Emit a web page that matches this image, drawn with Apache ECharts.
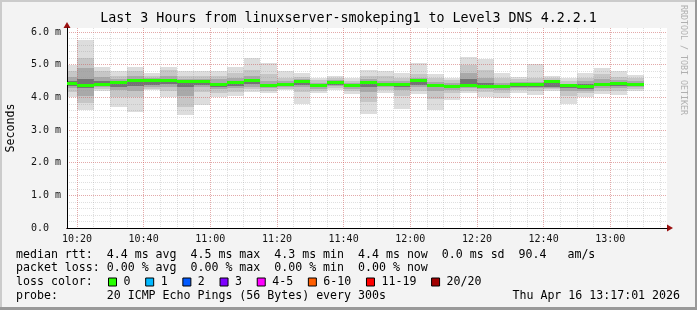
<!DOCTYPE html>
<html>
<head>
<meta charset="utf-8">
<script src="https://cdn.jsdelivr.net/npm/echarts@6/dist/echarts.min.js"></script>
<style>
html,body{margin:0;padding:0;background:#f3f3f3;}
#c{width:697px;height:310px;}
</style>
</head>
<body>
<div id="c"></div>
<script>
// ---- data (ms) ----
const barStarts = ["10:15","10:20","10:25","10:30","10:35","10:40","10:45","10:50","10:55","11:00",
  "11:05","11:10","11:15","11:20","11:25","11:30","11:35","11:40","11:45","11:50",
  "11:55","12:00","12:05","12:10","12:15","12:20","12:25","12:30","12:35","12:40",
  "12:45","12:50","12:55","13:00","13:05"];
const medianRtt = [4.40,4.35,4.38,4.43,4.50,4.50,4.50,4.46,4.48,4.39,4.43,4.50,4.35,4.37,4.46,4.35,4.45,4.36,4.43,4.38,
  4.37,4.50,4.36,4.32,4.34,4.32,4.30,4.37,4.37,4.46,4.33,4.31,4.38,4.42,4.38];
const smokeMin = [4.00,3.60,4.18,3.71,3.56,4.22,4.02,3.46,3.76,4.02,4.03,4.16,4.12,4.21,3.78,4.13,4.22,4.10,3.50,4.12,
  3.65,4.10,3.61,3.93,4.13,4.02,3.98,4.14,4.08,4.20,3.80,4.02,4.10,4.07,4.18];
const smokeMax = [5.00,5.75,4.94,4.79,4.94,4.73,4.94,4.79,4.79,4.79,4.94,5.20,5.04,4.80,4.74,4.58,4.66,4.58,4.84,4.79,
  4.73,5.05,4.71,4.60,5.24,5.18,4.73,4.63,5.02,4.64,4.58,4.74,4.90,4.80,4.68];
const band2Lo = [4.15,3.82,4.25,4.02,4.00,4.25,4.20,3.70,4.15,4.12,4.15,4.25,4.20,4.25,4.15,4.20,4.28,4.20,3.87,4.22,
  4.05,4.20,3.95,4.12,4.20,4.15,4.12,4.22,4.20,4.25,4.05,4.12,4.20,4.18,4.25];
const band2Hi = [4.80,5.19,4.80,4.65,4.80,4.65,4.82,4.65,4.65,4.65,4.75,4.85,4.70,4.60,4.62,4.52,4.58,4.50,4.65,4.65,
  4.60,4.70,4.58,4.52,5.00,4.85,4.58,4.55,4.60,4.58,4.50,4.60,4.70,4.62,4.60];
const band3Lo = [4.28,4.05,4.32,4.22,4.20,4.30,4.32,4.05,4.30,4.25,4.28,4.32,4.28,4.30,4.30,4.25,4.35,4.26,4.15,4.30,
  4.22,4.30,4.20,4.22,4.27,4.25,4.22,4.28,4.28,4.28,4.20,4.20,4.28,4.28,4.30];
const band3Hi = [4.62,4.90,4.62,4.55,4.65,4.58,4.65,4.55,4.55,4.55,4.60,4.65,4.50,4.50,4.55,4.45,4.52,4.44,4.55,4.50,
  4.50,4.58,4.48,4.45,4.75,4.60,4.45,4.47,4.48,4.52,4.42,4.50,4.55,4.52,4.50];
const band4Lo = [4.33,4.28,4.35,4.30,4.35,4.38,4.40,4.30,4.38,4.32,4.35,4.40,4.32,4.33,4.38,4.30,4.38,4.30,4.32,4.33,
  4.30,4.38,4.30,4.27,4.30,4.28,4.27,4.32,4.32,4.30,4.27,4.25,4.33,4.35,4.33];
const band4Hi = [4.50,4.55,4.50,4.48,4.55,4.53,4.55,4.50,4.52,4.45,4.50,4.56,4.42,4.43,4.50,4.40,4.48,4.40,4.48,4.42,
  4.42,4.52,4.42,4.38,4.55,4.45,4.38,4.42,4.42,4.48,4.38,4.40,4.45,4.47,4.43];
const xTickLabels = ["10:20","10:40","11:00","11:20","11:40","12:00","12:20","12:40","13:00"];
const yTickValues = [0,1,2,3,4,5,6];
const yTickLabels = ["0.0  ","1.0 m","2.0 m","3.0 m","4.0 m","5.0 m","6.0 m"];
const lossNames = ["0","1","2","3","4-5","6-10","11-19","20/20"];
const lossColors = ["#26ff00","#00b8ff","#0059ff","#7e00ff","#ff00ff","#ff5e00","#ff0000","#a10000"];

const toMin = s => { const p = s.split(':'); return (+p[0])*60 + (+p[1]); };
const STEP = 5;
const X0 = 617 + 1/60, X1 = 797 + 1/60;  // 10:17:01 .. 13:17:01
const Y_MAX = 6.12;
const majorX = xTickLabels.map(toMin);
const minorX = []; for (let t = 620; t <= 795; t += 5) minorX.push(t);
const minorY = []; for (let i = 1; i <= 30; i++) minorY.push(+(i*0.2).toFixed(1));

const smokeData = barStarts.map((s,i) => {
  const t = toMin(s);
  return [t, t+STEP, smokeMin[i], smokeMax[i], band2Lo[i], band2Hi[i], band3Lo[i], band3Hi[i], band4Lo[i], band4Hi[i]];
});
const medianData = barStarts.map((s,i) => { const t = toMin(s); return [t, t+STEP, medianRtt[i]]; });

const MONO = "'DejaVu Sans Mono', monospace";
const pad2 = n => (n<10?'0':'')+n;
const fmtT = v => pad2(Math.floor(v/60)) + ':' + pad2(Math.round(v%60));

function clampX(cs, a, b){ return [Math.max(Math.round(a), cs.x), Math.min(Math.round(b), cs.x+cs.width)]; }

function renderSmoke(params, api){
  const cs = params.coordSys;
  const t0 = api.value(0), t1 = api.value(1);
  const bands = [[2,3,'#dddddd'],[4,5,'#c6c6c6'],[6,7,'#a9a9a9'],[8,9,'#747474']];
  const children = bands.map(b => {
    const pTop = api.coord([t0, api.value(b[1])]);
    const pBot = api.coord([t1, api.value(b[0])]);
    const xs = clampX(cs, pTop[0], pBot[0]);
    const yT = Math.round(pTop[1]), yB = Math.round(pBot[1]);
    return {type:'rect', shape:{x:xs[0], y:yT, width:xs[1]-xs[0], height:yB-yT}, style:{fill:b[2]}};
  });
  return {type:'group', children};
}
function renderMedian(params, api){
  const cs = params.coordSys;
  const a = api.coord([api.value(0), api.value(2)]);
  const b = api.coord([api.value(1), api.value(2)]);
  const xs = clampX(cs, a[0], b[0]);
  const y = Math.round(a[1]);
  return {type:'rect', shape:{x:xs[0], y:y-2, width:xs[1]-xs[0], height:3}, style:{fill:lossColors[0]}};
}

const chart = echarts.init(document.getElementById('c'), null, {renderer:'canvas'});
const gridMinor = {color:'rgba(150,150,150,0.3)', width:1, type:[1,1]};
const gridMajor = {color:'rgba(235,70,70,0.35)', width:1, type:[1,1]};

const txt = (text, left, top, extra) => Object.assign({
  text, left, top, padding:0,
  textStyle:{fontFamily:MONO, fontSize:11.6, fontWeight:'normal', color:'#000', lineHeight:14}
}, extra||{});

const option = {
  backgroundColor:'#f3f3f3',
  animation:false,
  title:[
    {text:'Last 3 Hours from linuxserver-smokeping1 to Level3 DNS 4.2.2.1', left:'center', top:12, padding:0,
     textStyle:{fontFamily:MONO, fontSize:13.3, fontWeight:'normal', color:'#000', lineHeight:14}},
    txt('median rtt:  4.4 ms avg  4.5 ms max  4.3 ms min  4.4 ms now  0.0 ms sd  90.4   am/s', 16, 248),
    txt('packet loss: 0.00 % avg  0.00 % max  0.00 % min  0.00 % now', 16, 261),
    txt('loss color:', 16, 275),
    txt('probe:       20 ICMP Echo Pings (56 Bytes) every 300s', 16, 289),
    txt('Thu Apr 16 13:17:01 2026', null, 289, {right:17, left:undefined})
  ],
  legend:{
    left:108, top:275, padding:0, itemWidth:8, itemHeight:8, itemGap:14.7, icon:'rect',
    selectedMode:false,
    data:lossNames,
    itemStyle:{borderColor:'#000', borderWidth:1},
    textStyle:{fontFamily:MONO, fontSize:11.6, color:'#000', padding:[0,0,0,2], lineHeight:14}
  },
  grid:{left:67, top:28, width:600, height:200, show:true, backgroundColor:'#ffffff', borderWidth:0,
        containLabel:false, outerBoundsMode:'none'},
  xAxis:[
    {type:'value', min:X0, max:X1, position:'bottom', z:4,
     axisLine:{show:true, onZero:false, lineStyle:{color:'#000', width:1}},
     axisTick:{show:false, customValues:majorX},
     axisLabel:{customValues:majorX, formatter:fmtT, margin:6, fontFamily:MONO, fontSize:10, color:'#111'},
     splitLine:{show:true, lineStyle:gridMajor}},
    {type:'value', min:X0, max:X1, position:'bottom', z:3,
     axisLine:{show:true, onZero:false, symbol:['none','triangle'], symbolSize:[7,6], symbolOffset:[0,3],
       lineStyle:{color:'#9a1010', width:1}},
     axisTick:{show:false, customValues:minorX},
     axisLabel:{show:false},
     splitLine:{show:true, lineStyle:gridMinor}}
  ],
  yAxis:[
    {type:'value', min:0, max:Y_MAX, position:'left', z:4,
     name:'Seconds', nameLocation:'middle', nameRotate:90, nameGap:50,
     nameTextStyle:{fontFamily:MONO, fontSize:11.6, color:'#000'},
     axisLine:{show:true, onZero:false, lineStyle:{color:'#000', width:1}},
     axisTick:{show:false, customValues:yTickValues},
     axisLabel:{customValues:yTickValues, margin:6, fontFamily:MONO, fontSize:10, color:'#111',
       formatter:v => yTickLabels[yTickValues.indexOf(Math.round(v))]},
     splitLine:{show:true, lineStyle:gridMajor}},
    {type:'value', min:0, max:Y_MAX, position:'left', z:3,
     axisLine:{show:true, onZero:false, symbol:['none','triangle'], symbolSize:[7,6], symbolOffset:[0,3],
       lineStyle:{color:'#9a1010', width:1}},
     axisTick:{show:false, customValues:minorY},
     axisLabel:{show:false},
     splitLine:{show:true, lineStyle:gridMinor}}
  ],
  graphic:[
    {type:'rect', left:0, top:0, shape:{width:697, height:2}, style:{fill:'#cbcbcb'}, silent:true},
    {type:'rect', left:0, top:0, shape:{width:2, height:310}, style:{fill:'#cbcbcb'}, silent:true},
    {type:'rect', left:0, top:307, shape:{width:697, height:3}, style:{fill:'#999999'}, silent:true},
    {type:'rect', left:695, top:0, shape:{width:2, height:310}, style:{fill:'#999999'}, silent:true},
    {type:'text', x:683, y:5, rotation:-Math.PI/2, silent:true,
     style:{text:'RRDTOOL / TOBI OETIKER', fill:'#b0b0b0', font:"8.3px 'DejaVu Sans Mono', monospace",
       textAlign:'left', textVerticalAlign:'middle'}}
  ],
  series:[
    {type:'custom', name:'smoke', xAxisIndex:0, yAxisIndex:0, z:1, clip:true, silent:true,
     renderItem:renderSmoke, data:smokeData},
    {type:'custom', name:'median', xAxisIndex:0, yAxisIndex:0, z:6, clip:true, silent:true,
     renderItem:renderMedian, data:medianData}
  ].concat(lossNames.map((n,i) => ({type:'line', name:n, data:[], color:lossColors[i],
     itemStyle:{color:lossColors[i]}, xAxisIndex:0, yAxisIndex:0})))
};
chart.setOption(option);
</script>
</body>
</html>
